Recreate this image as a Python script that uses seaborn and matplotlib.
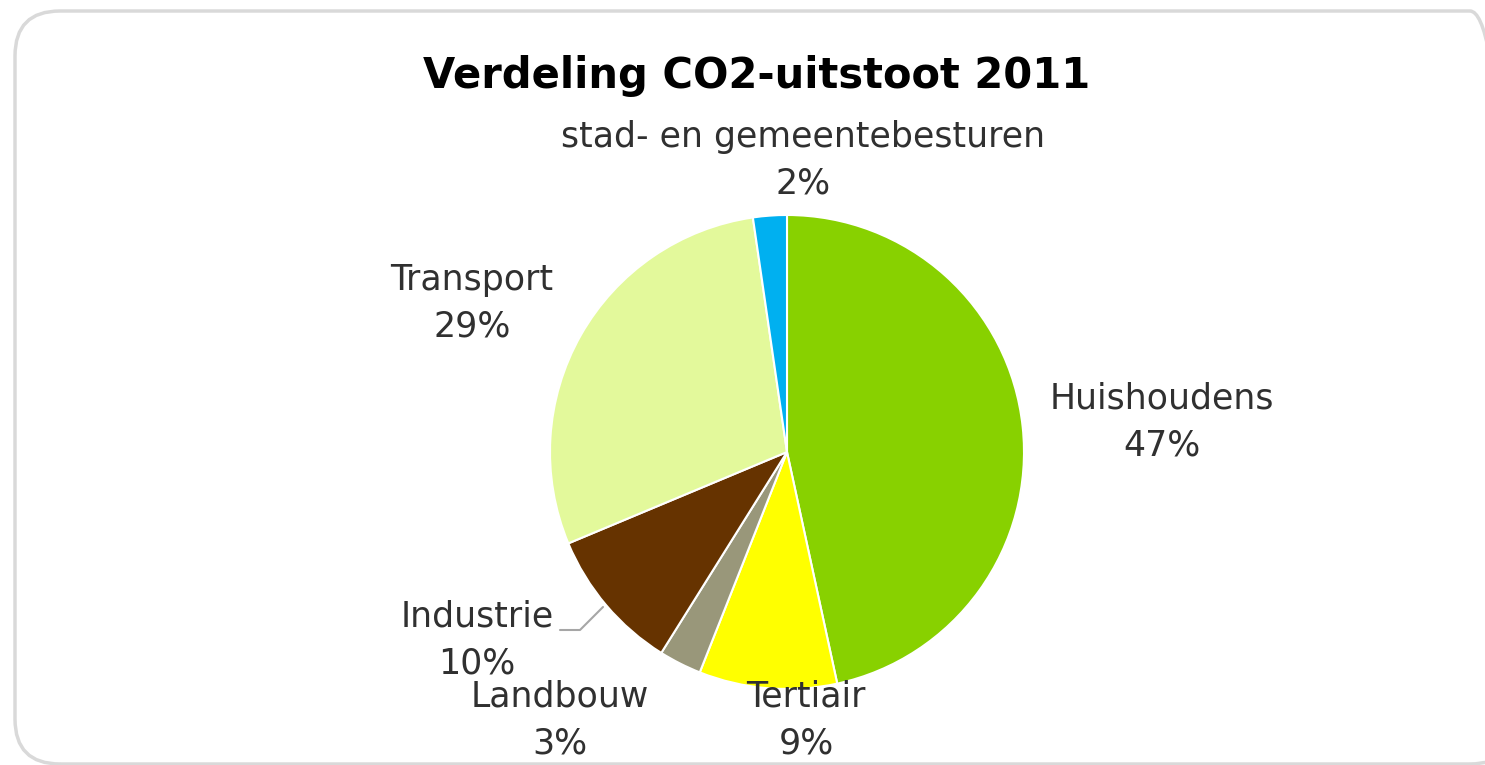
import matplotlib
matplotlib.use("Agg")
import matplotlib.pyplot as plt
from matplotlib.patches import FancyBboxPatch
import seaborn as sns

# data (clockwise from the top)
sectors = ["Huishoudens", "Tertiair", "Landbouw", "Industrie", "Transport",
           "stad- en gemeentebesturen"]
shares = [46.6, 9.4, 2.9, 9.8, 29.0, 2.3]
colors = ["#88D100", "#FFFF00", "#99977A", "#663300", "#E3F99B", "#00B0F0"]

sns.set_theme(style="white")
plt.rcParams["font.family"] = ["DejaVu Sans"]

W, H, DPI = 1485, 765, 100
fig = plt.figure(figsize=(W / DPI, H / DPI), dpi=DPI)
ax = fig.add_axes([0, 0, 1, 1])

# pie centre and radius in pixels
cx, cy, R = 787, 452, 237


def px(x, y):
    return (x - cx) / R, (cy - y) / R


ax.pie(shares, colors=colors, startangle=90, counterclock=False, radius=1,
       wedgeprops=dict(edgecolor="white", linewidth=1.5))
ax.set_aspect("equal")
ax.set_xlim(-cx / R, (W - cx) / R)
ax.set_ylim(-(H - cy) / R, cy / R)
ax.axis("off")

# label placement (pixel centres as in the original layout)
label_pos = {
    "Huishoudens": (1162, 422),
    "Tertiair": (806, 720),
    "Landbouw": (560, 720),
    "Industrie": (477, 640),
    "Transport": (472, 303),
    "stad- en gemeentebesturen": (803, 160),
}
total = sum(shares)
for name, val in zip(sectors, shares):
    x, y = px(*label_pos[name])
    ax.text(x, y, f"{name}\n{round(val / total * 100)}%", ha="center", va="center",
            fontsize=25, color="#303030", linespacing=1.45)

# leader line for Industrie
lx, ly = zip(px(560, 630), px(580, 630), px(603, 607))
ax.plot(lx, ly, color="#A6A6A6", lw=1.5)

x, y = px(757, 76)
ax.text(x, y, "Verdeling CO2-uitstoot 2011", ha="center", va="center",
        fontsize=30, fontweight="bold", color="black")

# rounded chart frame
frame = FancyBboxPatch((15, 1), 1500, H - 12, boxstyle="round,pad=0,rounding_size=45",
                       transform=None, fill=False, edgecolor="#D9D9D9", linewidth=2.5)
fig.patches.append(frame)

fig.savefig("out.png", dpi=DPI)
